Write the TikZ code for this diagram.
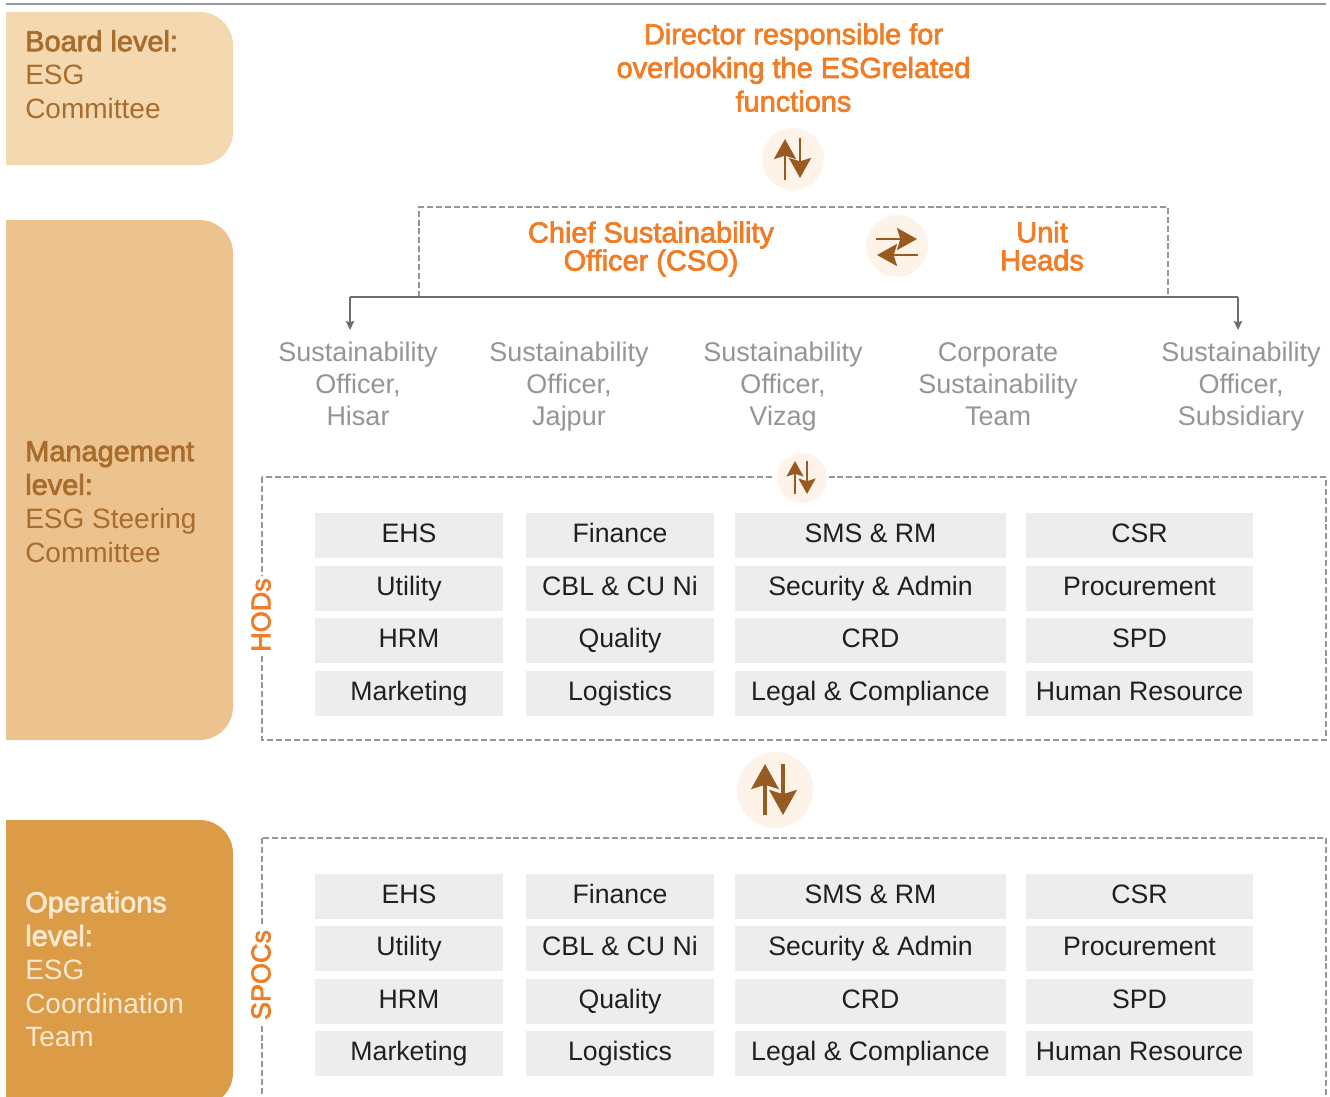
\documentclass[tikz,border=0pt]{standalone}
\usepackage{fontspec}
\setmainfont{Liberation Sans}
\newfontfamily\medfont[FakeBold=2.5]{Liberation Sans}
\newcommand{\panelhead}[1]{{\fontsize{21.7}{25.25}\medfont #1}}
\usetikzlibrary{arrows.meta,calc}
\definecolor{orangeT}{HTML}{F07D26}
\definecolor{greyT}{HTML}{939598}
\definecolor{greyL}{HTML}{6D6E71}
\definecolor{dashC}{HTML}{939598}
\definecolor{brownT}{HTML}{A86C2C}
\definecolor{brownA}{HTML}{975A21}
\definecolor{boardF}{HTML}{F4D8B0}
\definecolor{mgmtF}{HTML}{ECC28E}
\definecolor{opsF}{HTML}{DB9B47}
\definecolor{opsT}{HTML}{FBE8D0}
\definecolor{circF}{HTML}{FEF3E8}
\definecolor{cellF}{HTML}{EDEDED}
\definecolor{cellT}{HTML}{231F20}
\def\px{0.75pt}
\tikzset{
  panel/.style={anchor=north west,inner sep=0pt,align=left,font=\fontsize{21}{25.25}\selectfont},
  head/.style={inner sep=0pt,align=center,text=orangeT},
  officer/.style={anchor=north,inner sep=0pt,align=center,text=greyT,font=\fontsize{20.25}{24}\selectfont},
  cell/.style={fill=cellF,text=cellT,inner sep=0pt,minimum height=45*\px,text height=13.5pt,text depth=3.75pt,font=\fontsize{20}{24}\selectfont},
  vlabel/.style={rotate=90,fill=white,inner sep=2pt,text=orangeT,font=\fontsize{20.25}{24}\medfont},
  dashline/.style={draw=dashC,line width=1.4pt,dash pattern=on 4.5pt off 2.2pt},
  bus/.style={draw=greyL,line width=1.1pt},
  tip/.style={-{Stealth[length=7pt,width=6.5pt,inset=1.5pt]}},
  roundel/.style={circle,fill=circF,draw=white,line width=1.5pt,inner sep=0pt},
  flow/.style={draw=brownA,-{Stealth[length=#1*15pt,width=#1*16.5pt,inset=#1*2.5pt]},line width=#1*2pt},
}
\begin{document}
\begin{tikzpicture}[x=0.75pt,y=-0.75pt]
\useasboundingbox (0,0) rectangle (1330,1096);
\clip (0,0) rectangle (1330,1096);
\coordinate (ruleL) at (6,4);
\coordinate (ruleR) at (1326,4);
\draw[draw=greyT,line width=1.4pt] (ruleL) -- (ruleR);
% level panels
\fill[boardF] (6,12) [rounded corners=25pt] -- (233,12) -- (233,165) [sharp corners] -- (6,165) -- cycle;
\fill[mgmtF] (6,220) [rounded corners=25pt] -- (233,220) -- (233,740) [sharp corners] -- (6,740) -- cycle;
\fill[opsF] (6,820) [rounded corners=25pt] -- (233,820) -- (233,1106) [sharp corners] -- (6,1106) -- cycle;
\node[panel,text=brownT] (board) at (25,30) {\panelhead{Board level:}\\ESG\\Committee};
\node[panel,text=brownT] (mgmt) at (25,441) {\panelhead{Management}\\\panelhead{level:}\\ESG Steering\\Committee};
\node[panel,text=opsT] (ops) at (25,891) {\panelhead{Operations}\\\panelhead{level:}\\ESG\\Coordination\\Team};
% top
\node[head,anchor=north,font=\fontsize{21.7}{25.25}\medfont] (director) at (793.5,23) {Director responsible for\\overlooking the ESGrelated\\functions};
\node[roundel,minimum size=64*\px] (c1) at (793,159) {};
\draw[flow=1] ($(c1)+(-8,21)$) -- ($(c1)+(-8,-20)$);
\draw[flow=1] ($(c1)+(7,-21)$) -- ($(c1)+(7,19)$);
% management frame
\coordinate (fa) at (419,297);
\coordinate (fb) at (419,207);
\coordinate (fc) at (1168,207);
\coordinate (fd) at (1168,297);
\draw[dashline] (fa) -- (fb) -- (fc) -- (fd);
\coordinate (busL) at (350,297);
\coordinate (busR) at (1238,297);
\coordinate (tipL) at (350,330);
\coordinate (tipR) at (1238,330);
\draw[bus,tip] (busL) -- (tipL);
\draw[bus,tip] (busR) -- (tipR);
\draw[bus] (busL) -- (busR);
\node[head,font=\fontsize{21.7}{21}\medfont] (cso) at (651,249) {Chief Sustainability\\Officer (CSO)};
\node[head,font=\fontsize{21.7}{21}\medfont] (unit) at (1042,246) {Unit\\Heads};
\node[roundel,minimum size=64*\px] (c2) at (897,246) {};
\draw[flow=1] ($(c2)+(-21,-7)$) -- ($(c2)+(20,-7)$);
\draw[flow=1] ($(c2)+(21,9)$) -- ($(c2)+(-20,9)$);
% officers
\node[officer] (so1) at (358,342) {Sustainability\\Officer,\\Hisar};
\node[officer] (so2) at (569,342) {Sustainability\\Officer,\\Jajpur};
\node[officer] (so3) at (783,342) {Sustainability\\Officer,\\Vizag};
\node[officer] (so4) at (998,342) {Corporate\\Sustainability\\Team};
\node[officer] (so5) at (1241,342) {Sustainability\\Officer,\\Subsidiary};
% frames
\coordinate (ha) at (262,477);
\coordinate (hb) at (1326,740);
\draw[dashline] (ha) rectangle (hb);
\coordinate (sa) at (262,838);
\coordinate (sb) at (1326,1140);
\draw[dashline] (sa) rectangle (sb);
\node[vlabel] (hods) at (261,615) {HODs};
\node[vlabel] (spocs) at (261,975) {SPOCs};
\node[roundel,minimum size=52*\px] (c3) at (802,478) {};
\draw[flow=0.77] ($(c3)+(-7,16)$) -- ($(c3)+(-7,-17)$);
\draw[flow=0.77] ($(c3)+(5,-17)$) -- ($(c3)+(5,16)$);
\node[roundel,minimum size=78*\px] (c4) at (775,790) {};
\draw[flow=1.25] ($(c4)+(-10,25)$) -- ($(c4)+(-10,-26)$);
\draw[flow=1.25] ($(c4)+(8,-26)$) -- ($(c4)+(8,25)$);
% cells
\foreach \pre/\ya/\yb/\yc/\yd in {h/535.5/588.5/640.5/693.5,s/896.5/948.5/1001.5/1053.5}{
  \foreach \n/\cx/\cw/\ta/\tb/\tc/\td in {
    1/409/188/EHS/Utility/HRM/Marketing,
    2/620/188/Finance/CBL \& CU Ni/Quality/Logistics,
    3/870.5/271/SMS \& RM/Security \& Admin/CRD/Legal \& Compliance,
    4/1139.5/227/CSR/Procurement/SPD/Human Resource}{
    \node[cell,minimum width=\cw*\px] (\pre\n a) at (\cx,\ya) {\ta};
    \node[cell,minimum width=\cw*\px] (\pre\n b) at (\cx,\yb) {\tb};
    \node[cell,minimum width=\cw*\px] (\pre\n c) at (\cx,\yc) {\tc};
    \node[cell,minimum width=\cw*\px] (\pre\n d) at (\cx,\yd) {\td};
  }
}
\end{tikzpicture}
\end{document}
